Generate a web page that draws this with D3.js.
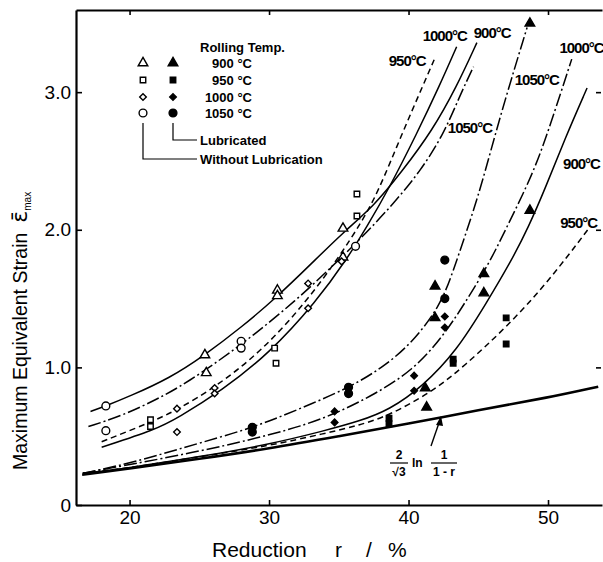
<!DOCTYPE html>
<html>
<head>
<meta charset="utf-8">
<script src="https://cdn.jsdelivr.net/npm/d3@7"></script>
<style>
  body { margin: 0; background: #fff; }
  svg { display: block; }
  text { font-family: "Liberation Sans", Arial, sans-serif; fill: #000; }
</style>
</head>
<body>
<div id="chart"></div>
<script>
// ---- data ----
var xTicks = [20, 30, 40, 50];
var yTicks = [0, 1, 2, 3];
var temps = ["900 °C", "950 °C", "1000 °C", "1050 °C"];

// measured points [reduction %, strain]; open = without lubrication, filled = lubricated
var openTri  = [[25.4,1.09],[25.5,0.96],[30.6,1.56],[30.6,1.52],[35.3,2.01],[35.3,1.80]];
var openSq   = [[21.5,0.62],[21.5,0.57],[30.4,1.14],[30.5,1.03],[36.3,2.26],[36.3,2.10]];
var openDia  = [[23.4,0.70],[23.4,0.53],[26.1,0.85],[26.1,0.81],[32.8,1.61],[32.8,1.43],[35.2,1.77]];
var openCirc = [[18.3,0.72],[18.3,0.54],[28.0,1.19],[28.0,1.14],[36.2,1.88]];
var fillTri  = [[41.9,1.59],[41.9,1.36],[45.4,1.68],[45.4,1.54],[41.2,0.85],[41.3,0.71],[48.7,3.50],[48.7,2.14]];
var fillSq   = [[43.2,1.06],[43.2,1.03],[47.0,1.36],[47.0,1.17],[38.6,0.63],[38.6,0.59]];
var fillDia  = [[42.6,1.37],[42.6,1.29],[40.4,0.94],[40.4,0.83],[34.7,0.68],[34.7,0.60]];
var fillCirc = [[28.8,0.565],[28.8,0.53],[35.7,0.855],[35.7,0.81],[42.6,1.78],[42.6,1.50]];

// fitted curves
var u900  = [[17.2,0.68],[18.3,0.72],[20,0.79],[22.85,0.92],[25.4,1.09],[28,1.29],[30.55,1.51],[33,1.75],[35.3,1.98],[37.5,2.17],[39.5,2.42],[41.7,2.72],[43.45,3.04],[44.9,3.36]];
var u950  = [[18,0.46],[21.5,0.60],[23.4,0.69],[26.2,0.86],[29.5,1.12],[32.7,1.48],[35,1.80],[36.6,2.05],[37.8,2.27],[39.5,2.69],[41.06,3.055],[41.9,3.25]];
var u1000 = [[18,0.42],[21.9,0.55],[23.4,0.63],[26.6,0.83],[30,1.10],[33.4,1.48],[35.6,1.79],[37,2.02],[38.6,2.30],[40.6,2.70],[42.26,3.055],[43.45,3.33]];
var u1050 = [[17.05,0.57],[19.5,0.65],[22,0.77],[24,0.88],[28,1.16],[32,1.49],[35,1.78],[37,1.98],[39,2.20],[40.8,2.42],[42.5,2.69],[43.7,2.98],[44.66,3.185]];
var l900  = [[16.65,0.23],[20,0.27],[25,0.35],[30,0.44],[34,0.54],[36.5,0.61],[38.6,0.69],[41,0.86],[43.45,1.12],[45.6,1.47],[47.4,1.78],[48.6,2.02],[49.8,2.30],[51.2,2.66],[52.8,3.03]];
var l950  = [[16.65,0.23],[20,0.27],[25,0.35],[30,0.43],[34,0.52],[36.5,0.58],[38.6,0.65],[41.8,0.83],[44,1.01],[47,1.29],[50,1.62],[53,2.02]];
var l1000 = [[16.65,0.23],[18.7,0.27],[22,0.33],[27.3,0.44],[30,0.51],[32.2,0.57],[34.7,0.66],[37.5,0.80],[40.35,0.98],[42.5,1.23],[44,1.46],[45.8,1.76],[46.9,1.99],[48.9,2.40],[50.1,2.74],[51.7,3.24]];
var l1050 = [[16.65,0.23],[19,0.28],[22,0.36],[25,0.45],[28.8,0.56],[32,0.69],[35.7,0.85],[38,0.99],[40.1,1.16],[42.25,1.44],[43.2,1.70],[44.2,2.00],[45.2,2.31],[46.6,2.84],[48.5,3.47]];
// 2/sqrt(3) ln 1/(1-r)
var theory = [[16.6,0.22],[20,0.265],[25,0.335],[30,0.41],[35,0.50],[40,0.59],[45,0.69],[50,0.78],[53.6,0.86]];

var curveLabels = [
  {text: "950°C",  at: [39.9, 3.23]},
  {text: "1000°C", at: [42.6, 3.41]},
  {text: "900°C",  at: [46.0, 3.43]},
  {text: "1050°C", at: [44.4, 2.74]},
  {text: "1000°C", at: [52.4, 3.32]},
  {text: "1050°C", at: [49.2, 3.09]},
  {text: "900°C",  at: [52.4, 2.48]},
  {text: "950°C",  at: [52.2, 2.05]}
];

var width = 603, height = 562;

var svg = d3.select("#chart").append("svg")
  .attr("width", width)
  .attr("height", height);

var x = d3.scaleLinear().domain([16.16, 53.87]).range([76, 602]);
var y = d3.scaleLinear().domain([0, 3.597]).range([505, 10]);

// axes (ticks point inward)
var gx = svg.append("g")
  .attr("transform", "translate(0," + y(0) + ")")
  .call(d3.axisBottom(x).tickValues(xTicks).tickSizeInner(-5).tickSizeOuter(0).tickPadding(6));
var gy = svg.append("g")
  .attr("transform", "translate(" + x(16.16) + ",0)")
  .call(d3.axisLeft(y).tickValues(yTicks).tickSizeInner(-6).tickSizeOuter(0).tickPadding(5)
    .tickFormat(function(d) { return d === 0 ? "0" : d.toFixed(1); }));
var gt = svg.append("g")
  .attr("transform", "translate(0," + y(3.597) + ")")
  .call(d3.axisTop(x).tickValues(xTicks).tickSizeInner(-5).tickSizeOuter(0).tickFormat(""));
var gr = svg.append("g")
  .attr("transform", "translate(" + (x(53.87) - 1) + ",0)")
  .call(d3.axisRight(y).tickValues([1, 2, 3]).tickSizeInner(-5).tickSizeOuter(0).tickFormat(""));
gr.select(".domain").remove();

[gx, gy, gt, gr].forEach(function(g) {
  g.select(".domain").attr("stroke-width", 2.2);
  g.selectAll(".tick line").attr("stroke-width", 1.6);
  g.selectAll("text").style("font-size", "19px").attr("fill", "#000");
});

// axis titles
svg.append("text").attr("x", 212).attr("y", 557).style("font-size", "21px").text("Reduction");
svg.append("text").attr("x", 335).attr("y", 557).style("font-size", "21px").text("r");
svg.append("text").attr("x", 366).attr("y", 557).style("font-size", "21px").text("/");
svg.append("text").attr("x", 388).attr("y", 557).style("font-size", "21px").text("%");

var ylab = svg.append("text")
  .attr("transform", "translate(27,470) rotate(-90)")
  .style("font-size", "19.5px");
ylab.append("tspan").text("Maximum Equivalent Strain");
ylab.append("tspan").attr("dx", 10).style("font-size", "22px")
  .style("font-family", "'DejaVu Sans', sans-serif").text("ε̄");
ylab.append("tspan").attr("dy", 4).style("font-size", "10px").text("max");

// curves
var line = d3.line()
  .x(function(d) { return x(d[0]); })
  .y(function(d) { return y(d[1]); })
  .curve(d3.curveBasis);

var solid = null, dashed = "6,4", dashDot = "13,3,2,3";
var curves = [
  {data: u900, dash: solid}, {data: u950, dash: dashed},
  {data: u1000, dash: solid}, {data: u1050, dash: dashDot},
  {data: l900, dash: solid}, {data: l950, dash: dashed},
  {data: l1000, dash: dashDot}, {data: l1050, dash: dashDot}
];
svg.append("g").selectAll("path")
  .data(curves)
  .join("path")
    .attr("d", function(d) { return line(d.data); })
    .attr("fill", "none")
    .attr("stroke", "#000")
    .attr("stroke-width", 1.5)
    .attr("stroke-dasharray", function(d) { return d.dash; });

svg.append("path")
  .attr("d", line(theory))
  .attr("fill", "none")
  .attr("stroke", "#000")
  .attr("stroke-width", 2.6);

// curve labels
svg.append("g").selectAll("text")
  .data(curveLabels)
  .join("text")
    .attr("x", function(d) { return x(d.at[0]); })
    .attr("y", function(d) { return y(d.at[1]); })
    .attr("dy", "0.35em")
    .attr("text-anchor", "middle")
    .style("font-size", "15px")
    .style("font-weight", "bold")
    .style("letter-spacing", "-1px")
    .text(function(d) { return d.text; });

// markers
var shapes = [
  {type: d3.symbolTriangle, size: 40, rot: 0},
  {type: d3.symbolSquare, size: 30, rot: 0},
  {type: d3.symbolSquare, size: 22, rot: 45},
  {type: d3.symbolCircle, size: 48, rot: 0}
];
var groups = [
  {pts: openTri, s: 0, filled: false}, {pts: openSq, s: 1, filled: false},
  {pts: openDia, s: 2, filled: false}, {pts: openCirc, s: 3, filled: false},
  {pts: fillTri, s: 0, filled: true}, {pts: fillSq, s: 1, filled: true},
  {pts: fillDia, s: 2, filled: true}, {pts: fillCirc, s: 3, filled: true}
];
function marker(g, sh, filled, px, py) {
  g.append("path")
    .attr("d", d3.symbol().type(sh.type).size(sh.size)())
    .attr("transform", "translate(" + px + "," + py + ") rotate(" + sh.rot + ")")
    .attr("fill", filled ? "#000" : "#fff")
    .attr("stroke", "#000")
    .attr("stroke-width", 1.4);
}
var gm = svg.append("g");
groups.forEach(function(grp) {
  grp.pts.forEach(function(p) {
    marker(gm, shapes[grp.s], grp.filled, x(p[0]), y(p[1]));
  });
});

// theory formula + arrow
var gf = svg.append("g").style("font-size", "12px").style("font-weight", "bold");
gf.append("text").attr("x", 399).attr("y", 459).attr("text-anchor", "middle").text("2");
gf.append("line").attr("x1", 390).attr("x2", 408).attr("y1", 463).attr("y2", 463).attr("stroke", "#000").attr("stroke-width", 1.2);
gf.append("text").attr("x", 399).attr("y", 476).attr("text-anchor", "middle").text("√3");
gf.append("text").attr("x", 412).attr("y", 467).text("ln");
gf.append("text").attr("x", 444).attr("y", 459).attr("text-anchor", "middle").text("1");
gf.append("line").attr("x1", 431).attr("x2", 457).attr("y1", 463).attr("y2", 463).attr("stroke", "#000").attr("stroke-width", 1.2);
gf.append("text").attr("x", 444).attr("y", 476).attr("text-anchor", "middle").text("1 - r");
svg.append("line").attr("x1", 431).attr("y1", 446).attr("x2", 440).attr("y2", 420)
  .attr("stroke", "#000").attr("stroke-width", 1.4);
svg.append("path").attr("d", "M441,416 L436,425 L443,426 Z").attr("fill", "#000");

// legend
var lg = svg.append("g").style("font-size", "13px").style("font-weight", "bold");
lg.append("text").attr("x", 200).attr("y", 52).text("Rolling Temp.");
var rowY = [63, 80, 97, 113];
temps.forEach(function(t, i) {
  marker(lg, shapes[i], false, 143, rowY[i]);
  marker(lg, shapes[i], true, 173, rowY[i]);
  lg.append("text").attr("x", 252).attr("y", rowY[i]).attr("dy", "0.35em")
    .attr("text-anchor", "end").text(t);
});
lg.append("path").attr("d", "M173,123 V140 H197").attr("fill", "none").attr("stroke", "#000").attr("stroke-width", 1.2);
lg.append("path").attr("d", "M143,123 V159 H197").attr("fill", "none").attr("stroke", "#000").attr("stroke-width", 1.2);
lg.append("text").attr("x", 200).attr("y", 140).attr("dy", "0.35em").text("Lubricated");
lg.append("text").attr("x", 200).attr("y", 159).attr("dy", "0.35em").text("Without Lubrication");
</script>
</body>
</html>
